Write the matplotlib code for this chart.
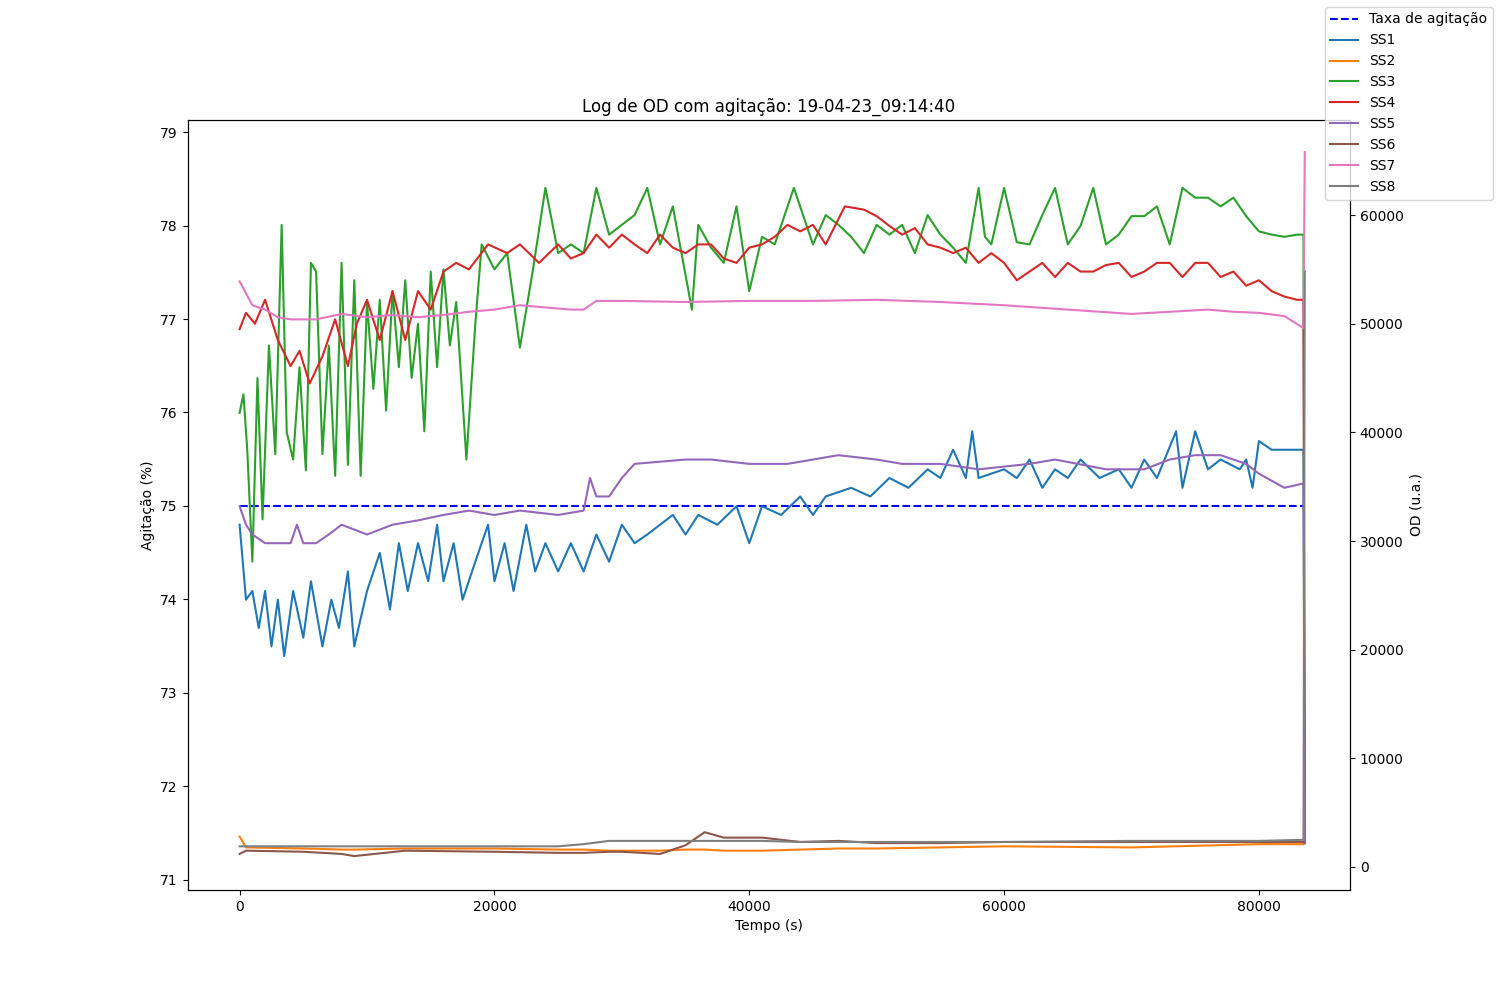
import numpy as np
import matplotlib.pyplot as plt

# Taxa de agitação (%)
t_agit = [0, 83600]
agit = [75, 75]

# SS3 (OD)
t_ss3 = [0, 300, 600, 1000, 1400, 1800, 2300, 2800, 3300, 3700, 4200, 4700, 5200, 5600, 6000, 6500, 7000, 7500, 8000,
         8500, 9000, 9500, 10000, 10500, 11000, 11500, 12000, 12500, 13000, 13500, 14000, 14500, 15000, 15500, 16000,
         16500, 17000, 17800, 18500, 19000, 20000, 21000, 22000, 23000, 24000, 25000, 26000, 27000, 28000, 29000,
         30000, 31000, 32000, 33000, 34000, 35500, 36000, 37000, 38000, 39000, 40000, 41000, 42000, 43500, 45000,
         46000, 47000, 48000, 49000, 50000, 51000, 52000, 53000, 54000, 55000, 56000, 57000, 58000, 58500, 59000,
         60000, 61000, 62000, 63000, 64000, 65000, 66000, 67000, 68000, 69000, 70000, 71000, 72000, 73000, 74000,
         75000, 76000, 77000, 78000, 79000, 80000, 81000, 82000, 83000, 83500]
ss3 = [41800, 43500, 38400, 28100, 45000, 32000, 48000, 38000, 59100, 40000, 37500, 46000, 36500, 55600, 54800, 38000,
       48000, 36000, 55600, 37000, 54000, 36000, 52000, 44000, 52200, 42000, 53000, 46000, 54000, 45000, 50000, 40100,
       54800, 46000, 55000, 48000, 52000, 37500, 50000, 57300, 55000, 56500, 47800, 54800, 62500, 56500, 57300, 56500,
       62500, 58200, 59100, 60000, 62500, 57300, 60800, 51300, 59100, 57000, 55600, 60800, 53000, 58000, 57300, 62500,
       57300, 60000, 59100, 58000, 56500, 59100, 58200, 59100, 56500, 60000, 58200, 57000, 55600, 62500, 58000, 57300,
       62500, 57500, 57300, 60000, 62500, 57300, 59000, 62500, 57300, 58200, 59900, 59900, 60800, 57300, 62500, 61600,
       61600, 60800, 61600, 59900, 58500, 58200, 58000, 58200, 58200]

# SS4 (OD)
t_ss4 = [0, 500, 1200, 2000, 3000, 4000, 4700, 5500, 6500, 7500, 8500, 9200, 10000, 11000, 12000, 13000, 14000,
         15000, 16000, 17000, 18000, 19500, 21000, 22000, 23500, 25000, 26000, 27000, 28000, 29000, 30000, 31000,
         32000, 33000, 34000, 35000, 36000, 37000, 38000, 39000, 40000, 41000, 42000, 43000, 44000, 45000, 46000,
         47500, 49000, 50000, 51000, 52000, 53000, 54000, 55000, 56000, 57000, 58000, 59000, 60000, 61000, 62000,
         63000, 64000, 65000, 66000, 67000, 68000, 69000, 70000, 71000, 72000, 73000, 74000, 75000, 76000, 77000,
         78000, 79000, 80000, 81000, 82000, 83000, 83500]
ss4 = [49500, 51000, 50000, 52200, 48500, 46100, 47500, 44500, 47000, 50400, 46100, 50000, 52200, 48500, 53000, 48500,
       53000, 51300, 54800, 55600, 55000, 57300, 56500, 57300, 55600, 57300, 56000, 56500, 58200, 57000, 58200, 57300,
       56500, 58200, 57000, 56500, 57300, 57300, 56000, 55600, 57000, 57300, 58000, 59100, 58500, 59100, 57300, 60800,
       60500, 59900, 59000, 58200, 58800, 57300, 57000, 56500, 57000, 55600, 56500, 55600, 54000, 54800, 55600, 54300,
       55600, 54800, 54800, 55400, 55600, 54300, 54800, 55600, 55600, 54300, 55600, 55600, 54300, 54800, 53500, 54000,
       53000, 52500, 52200, 52200]

# SS7 (OD)
t_ss7 = [0, 500, 1000, 2000, 3000, 4000, 6000, 8000, 10000, 12000, 14000, 16000, 18000, 20000, 22000, 24000, 26000,
         27000, 28000, 30000, 35000, 40000, 45000, 50000, 55000, 60000, 65000, 70000, 73000, 76000, 78000, 80000,
         82000, 83500, 83600]
ss7 = [53900, 52800, 51700, 51300, 50600, 50400, 50400, 50900, 50600, 50800, 50600, 50800, 51100, 51300, 51700,
       51500, 51300, 51300, 52100, 52100, 52000, 52100, 52100, 52200, 52000, 51700, 51300, 50900, 51100, 51300,
       51100, 51000, 50700, 49600, 65800]

# SS1 (OD)
t_ss1 = [0, 500, 1000, 1500, 2000, 2500, 3000, 3500, 4200, 5000, 5600, 6500, 7200, 7800, 8500, 9000, 10000, 11000,
         11800, 12500, 13200, 14000, 14800, 15500, 16000, 16800, 17500, 18500, 19500, 20000, 20800, 21500, 22500,
         23200, 24000, 25000, 26000, 27000, 28000, 29000, 30000, 31000, 32000, 34000, 35000, 36000, 37500, 39000,
         40000, 41000, 42500, 44000, 45000, 46000, 48000, 49500, 51000, 52500, 54000, 55000, 56000, 57000, 57500,
         58000, 60000, 61000, 62000, 63000, 64000, 65000, 66000, 67500, 69000, 70000, 71000, 72000, 73500, 74000,
         75000, 76000, 77000, 78500, 79000, 79500, 80000, 81000, 83500]
ss1 = [31500, 24600, 25400, 22000, 25400, 20300, 24600, 19400, 25400, 21100, 26300, 20300, 24600, 22000, 27200,
       20300, 25400, 28900, 23700, 29800, 25400, 29800, 26300, 31500, 26300, 29800, 24600, 28100, 31500, 26300,
       29800, 25400, 31500, 27200, 29800, 27200, 29800, 27200, 30600, 28100, 31500, 29800, 30600, 32400, 30600,
       32400, 31500, 33200, 29800, 33200, 32400, 34100, 32400, 34100, 34900, 34100, 35800, 34900, 36600, 35800,
       38400, 35800, 40100, 35800, 36600, 35800, 37500, 34900, 36600, 35800, 37500, 35800, 36600, 34900, 37500,
       35800, 40100, 34900, 40100, 36600, 37500, 36600, 37500, 34900, 39200, 38400, 38400]

# SS5 (OD)
t_ss5 = [0, 500, 1000, 2000, 3000, 4000, 4500, 5000, 6000, 7000, 8000, 10000, 12000, 14000, 16000, 18000, 20000,
         22000, 25000, 27000, 27500, 28000, 29000, 30000, 31000, 35000, 37000, 40000, 43000, 45000, 47000, 50000,
         52000, 55000, 58000, 62000, 64000, 68000, 71000, 73000, 75000, 77000, 79000, 80000, 82000, 83500]
ss5 = [33200, 31500, 30600, 29800, 29800, 29800, 31500, 29800, 29800, 30600, 31500, 30600, 31500, 31900, 32400,
       32800, 32400, 32800, 32400, 32800, 35800, 34100, 34100, 35800, 37100, 37500, 37500, 37100, 37100, 37500,
       37900, 37500, 37100, 37100, 36600, 37100, 37500, 36600, 36600, 37500, 37900, 37900, 37100, 36200, 34900,
       35300]

# SS2, SS6, SS8 (OD)
t_low = [0, 500, 5000, 8000, 9000, 13000, 20000, 25000, 27000, 29000, 30000, 33000, 35000, 36500, 38000, 41000,
         44000, 47000, 50000, 55000, 60000, 70000, 80000, 83500]
ss2 = [2800, 1800, 1700, 1600, 1600, 1700, 1700, 1600, 1600, 1500, 1500, 1500, 1600, 1600, 1500, 1500, 1600, 1700,
       1700, 1800, 1900, 1800, 2100, 2100]
ss6 = [1200, 1500, 1400, 1200, 1000, 1500, 1400, 1300, 1300, 1400, 1400, 1200, 2000, 3200, 2700, 2700, 2300, 2400,
       2200, 2200, 2300, 2300, 2300, 2300]
ss8 = [1900, 1900, 1900, 1900, 1900, 1900, 1900, 1900, 2100, 2400, 2400, 2400, 2400, 2400, 2400, 2400, 2300, 2300,
       2300, 2300, 2300, 2400, 2400, 2500]

fig, ax = plt.subplots(figsize=(15, 10))
ax.plot(t_agit, agit, "b--", label="Taxa de agitação")
ax.set_ylim(70.89, 79.13)
ax.set_xlim(-4090, 87150)
ax.set_xlabel("Tempo (s)")
ax.set_ylabel("Agitação (%)")
ax.set_title("Log de OD com agitação: 19-04-23_09:14:40")

ax2 = ax.twinx()
ax2.plot(t_ss1 + [83600], ss1 + [2200], color="C0", label="SS1")
ax2.plot(t_low, ss2, color="C1", label="SS2")
ax2.plot(t_ss3 + [83600], ss3 + [2200], color="C2", label="SS3")
ax2.plot(t_ss4 + [83600], ss4 + [2200], color="C3", label="SS4")
ax2.plot(t_ss5 + [83600], ss5 + [2200], color="C4", label="SS5")
ax2.plot(t_low, ss6, color="C5", label="SS6")
ax2.plot(t_ss7, ss7, color="C6", label="SS7")
ax2.plot(t_low + [83600], ss8 + [54800], color="C7", label="SS8")
ax2.set_ylim(-2120, 68750)
ax2.set_ylabel("OD (u.a.)")

fig.legend(loc="upper right")
plt.savefig("out.png", dpi=100)
